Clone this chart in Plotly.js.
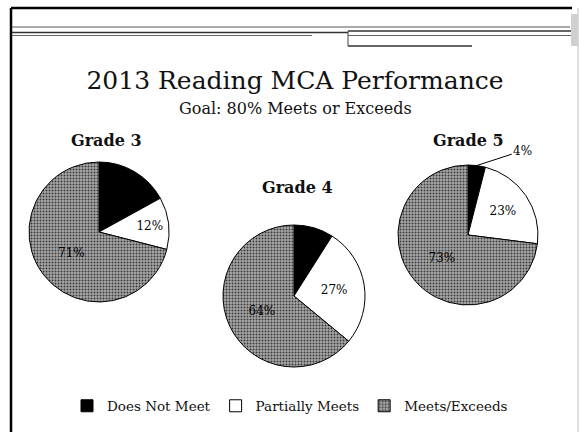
<!DOCTYPE html>
<html>
<head>
<meta charset="utf-8">
<script src="https://cdn.plot.ly/plotly-3.0.1.min.js"></script>
<style>html,body{margin:0;padding:0;background:#fff;}#chart{width:579px;height:432px;}</style>
</head>
<body>
<div id="chart"></div>
<script>
// ---- data ----
const categories = ["Does Not Meet", "Partially Meets", "Meets/Exceeds"];
const grades = ["Grade 3", "Grade 4", "Grade 5"];
const grade3 = [17, 12, 71];
const grade4 = [9, 27, 64];
const grade5 = [4, 23, 73];
const titleText = "2013 Reading MCA Performance";
const subtitleText = "Goal: 80% Meets or Exceeds";

// ---- layout helpers (pixel -> paper) ----
const W = 579, H = 432;
const px = x => x / W;
const py = y => 1 - y / H;
const SERIF = "DejaVu Serif, Liberation Serif, serif";

const pies = [
  {vals: grade3, cx: 99,  cy: 232, r: 70, label: {x: 106, y: 140}, tmpl: ["", "%{value}%", "%{value}%"]},
  {vals: grade4, cx: 294, cy: 296, r: 71, label: {x: 297, y: 188}, tmpl: ["", "%{value}%", "%{value}%"]},
  {vals: grade5, cx: 468, cy: 235, r: 70, label: {x: 468, y: 140}, tmpl: ["", "%{value}%", "%{value}%"]}
];

const sliceColors = ["#000000", "#ffffff", "#9c9c9c"];
const pattern = {shape: ["", "", "."], fgcolor: "#3a3a3a", bgcolor: "#a8a8a8", size: 3, solidity: 0.35, fillmode: "replace"};

const traces = pies.map((p, i) => ({
  type: "pie",
  name: grades[i],
  labels: categories,
  values: p.vals,
  sort: false,
  direction: "clockwise",
  rotation: 0,
  domain: {x: [px(p.cx - p.r), px(p.cx + p.r)], y: [py(p.cy + p.r), py(p.cy - p.r)]},
  marker: {colors: sliceColors, line: {color: "#000", width: 1}, pattern: pattern},
  textposition: "inside",
  insidetextorientation: "horizontal",
  texttemplate: p.tmpl,
  textfont: {family: SERIF, size: 12, color: "#000"},
  hoverinfo: "none",
  showlegend: i === 0
}));

const annotations = [
  {text: subtitleText, x: px(295), y: py(108), xref: "paper", yref: "paper", showarrow: false,
   xanchor: "center", yanchor: "middle", font: {family: SERIF, size: 16, color: "#111"}}
];
pies.forEach((p, i) => {
  annotations.push({text: "<b>" + grades[i] + "</b>", x: px(p.label.x), y: py(p.label.y), xref: "paper", yref: "paper",
    showarrow: false, xanchor: "center", yanchor: "middle", font: {family: SERIF, size: 16, color: "#111"}});
});
// Grade 5 "Does Not Meet" label placed outside with a leader line to the slice's mid-angle
(function () {
  const p = pies[2];
  const tot = p.vals.reduce((a, b) => a + b, 0);
  const ang = (p.vals[0] / tot) * Math.PI; // half of slice angle, clockwise from top
  const ex = p.cx + p.r * Math.sin(ang), ey = p.cy - p.r * Math.cos(ang);
  annotations.push({text: p.vals[0] + "%", x: px(ex), y: py(ey), xref: "paper", yref: "paper",
    showarrow: true, arrowhead: 0, arrowwidth: 1, arrowcolor: "#000", ax: 46, ay: -15, standoff: 0,
    font: {family: SERIF, size: 12, color: "#000"}});
})();

const L = (x0, y0, x1, y1, w, c) => ({type: "line", xref: "paper", yref: "paper",
  x0: px(x0), y0: py(y0), x1: px(x1), y1: py(y1), line: {color: c || "#000", width: w || 1}});
const shapes = [
  L(11, 8, 11, 432, 2.5),
  L(11, 8, 572, 8, 2.5),
  L(578, 8, 578, 432, 1, "#bdbdbd"),
  L(12, 27, 570, 27, 1, "#555"),
  L(12, 32.5, 348, 32.5, 1.5, "#333"),
  L(12, 35.5, 312, 35.5, 1, "#666"),
  L(348, 31, 575, 31, 1.5, "#333"),
  L(348, 35.5, 575, 35.5, 1, "#666"),
  L(348, 31, 348, 46, 1, "#444"),
  L(348, 46, 472, 46, 1.5, "#333"),
  {type: "rect", xref: "paper", yref: "paper", x0: px(571), x1: px(578), y0: py(46), y1: py(14),
   fillcolor: "#d0d0d0", line: {width: 0}}
];

const layout = {
  width: W, height: H,
  margin: {l: 0, r: 0, t: 0, b: 0},
  paper_bgcolor: "#fff",
  title: {text: titleText, x: px(295), xanchor: "center", y: py(80), yanchor: "middle",
          font: {family: SERIF, size: 25, color: "#111"}},
  showlegend: true,
  legend: {orientation: "h", x: px(290), xanchor: "center", y: py(406), yanchor: "middle",
           font: {family: SERIF, size: 13.5, color: "#111"}, itemwidth: 30, traceorder: "normal"},
  annotations: annotations,
  shapes: shapes
};

Plotly.newPlot("chart", traces, layout, {displayModeBar: false, staticPlot: true});
</script>
</body>
</html>
